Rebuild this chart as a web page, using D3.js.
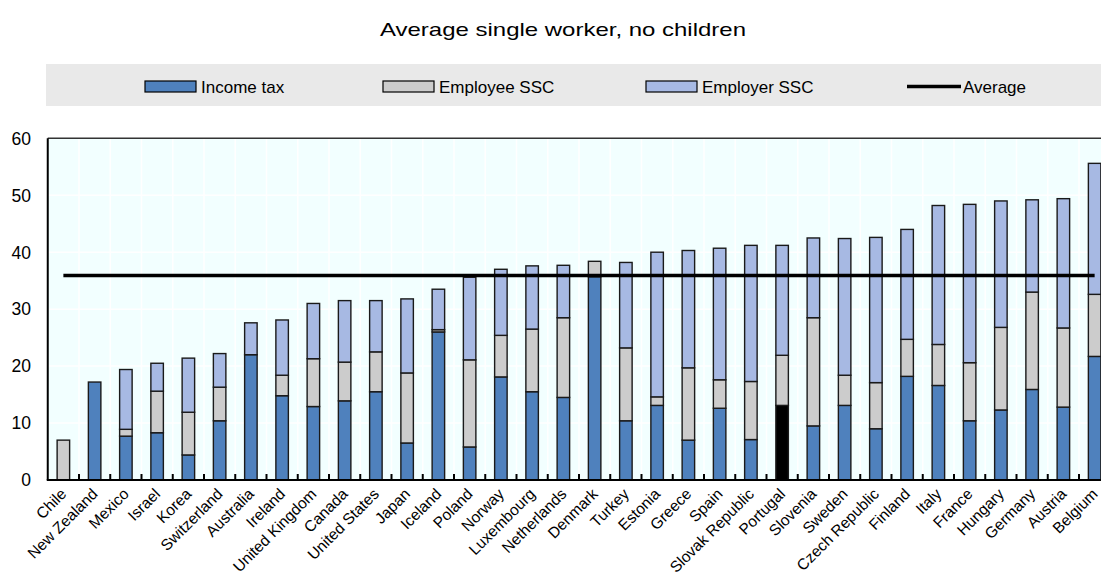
<!DOCTYPE html>
<html>
<head>
<meta charset="utf-8">
<script src="https://cdn.jsdelivr.net/npm/d3@7"></script>
<style>
  html, body { margin: 0; padding: 0; background: #ffffff; }
  svg { display: block; font-family: "Liberation Sans", Arial, sans-serif; }
</style>
</head>
<body>
<svg id="chart" width="1101" height="576"></svg>
<script>
const countries = ["Chile","New Zealand","Mexico","Israel","Korea","Switzerland","Australia","Ireland","United Kingdom","Canada","United States","Japan","Iceland","Poland","Norway","Luxembourg","Netherlands","Denmark","Turkey","Estonia","Greece","Spain","Slovak Republic","Portugal","Slovenia","Sweden","Czech Republic","Finland","Italy","France","Hungary","Germany","Austria","Belgium"];
const incomeTax   = [0.0,17.2,7.7,8.3,4.4,10.4,22.0,14.8,12.9,13.9,15.5,6.5,26.0,5.8,18.1,15.5,14.5,35.7,10.4,13.1,7.0,12.6,7.1,13.1,9.5,13.1,9.0,18.2,16.6,10.4,12.3,15.9,12.8,21.7];
const employeeSSC = [7.0,0.0,1.2,7.3,7.5,5.9,0.0,3.6,8.4,6.8,7.0,12.3,0.4,15.3,7.3,11.0,14.0,2.7,12.8,1.5,12.7,5.0,10.2,8.8,19.0,5.3,8.1,6.5,7.2,10.2,14.5,17.1,13.9,10.9];
const employerSSC = [0.0,0.0,10.5,4.9,9.5,5.9,5.6,9.7,9.7,10.8,9.0,13.0,7.1,14.5,11.6,11.1,9.2,0.0,15.0,25.4,20.6,23.1,23.9,19.3,14.0,24.0,25.5,19.3,24.4,27.8,22.2,16.2,22.7,23.0];
const averageValue = 35.9;
const yTicks = [0,10,20,30,40,50,60];
const highlight = "Portugal";
const seriesNames = ["Income tax","Employee SSC","Employer SSC"];
const averageName = "Average";
const title = "Average single worker, no children";

const colors = {"Income tax":"#4f81bd","Employee SSC":"#cccccc","Employer SSC":"#a7b9e3"};

const svg = d3.select("#chart");
const W = 1101, H = 576;
const plot = {left: 47.75, right: 1110.25, top: 138.3, bottom: 480};

// Title
svg.append("text").attr("x", 563).attr("y", 36).attr("text-anchor","middle")
  .attr("font-size", 19).attr("fill","#000")
  .attr("textLength", 366).attr("lengthAdjust","spacingAndGlyphs").text(title);

// Legend background
svg.append("rect").attr("x",46).attr("y",64).attr("width",W-46).attr("height",42).attr("fill","#e9e9e9");
const legendItems = [
  {name: seriesNames[0], x: 145, type: "rect"},
  {name: seriesNames[1], x: 383, type: "rect"},
  {name: seriesNames[2], x: 646, type: "rect"},
  {name: averageName, x: 907, type: "line"}
];
legendItems.forEach(it => {
  const g = svg.append("g");
  if (it.type === "rect") {
    g.append("rect").attr("x", it.x).attr("y", 81).attr("width", 51).attr("height", 11)
      .attr("fill", colors[it.name]).attr("stroke","#000").attr("stroke-width",1.2);
  } else {
    g.append("line").attr("x1", it.x).attr("x2", it.x+54).attr("y1", 86.5).attr("y2", 86.5)
      .attr("stroke","#000").attr("stroke-width",3.5);
  }
  g.append("text").attr("x", it.x + 56).attr("y", 93).attr("font-size", 17)
    .attr("font-family", "'Liberation Sans Narrow', 'Liberation Sans', Arial, sans-serif")
    .attr("fill","#000").text(it.name);
});

// Scales
const x = d3.scaleBand().domain(countries).range([plot.left, plot.right]).paddingInner(0).paddingOuter(0);
const y = d3.scaleLinear().domain([0,60]).range([plot.bottom, plot.top]);
const barW = x.bandwidth()*0.4;

// Plot background
svg.append("rect").attr("x", plot.left).attr("y", plot.top).attr("width", plot.right-plot.left)
  .attr("height", plot.bottom-plot.top).attr("fill","#f2ffff");

// Gridlines
svg.append("g").selectAll("line.h").data(yTicks.slice(1,-1)).join("line")
  .attr("x1", plot.left).attr("x2", plot.right).attr("y1", d=>y(d)).attr("y2", d=>y(d))
  .attr("stroke","#ffffff").attr("stroke-width",1.5);
svg.append("g").selectAll("line.v").data(countries.slice(1)).join("line")
  .attr("x1", d=>x(d)).attr("x2", d=>x(d)).attr("y1", plot.top).attr("y2", plot.bottom)
  .attr("stroke","#ffffff").attr("stroke-width",1.5);

// Stacked data
const rows = countries.map((c,i)=>({country:c, "Income tax":incomeTax[i], "Employee SSC":employeeSSC[i], "Employer SSC":employerSSC[i]}));
const stack = d3.stack().keys(seriesNames)(rows);

stack.forEach(layer => {
  svg.append("g").selectAll("rect").data(layer.filter(d => d[1]-d[0] > 0.001)).join("rect")
    .attr("x", d => x(d.data.country) + (x.bandwidth()-barW)/2)
    .attr("width", barW)
    .attr("y", d => y(d[1]))
    .attr("height", d => y(d[0]) - y(d[1]))
    .attr("fill", d => (layer.key === "Income tax" && d.data.country === highlight) ? "#000000" : colors[layer.key])
    .attr("stroke", "#1a1a1a").attr("stroke-width", 1.4);
});

// Axes frame
svg.append("line").attr("x1", plot.left).attr("x2", plot.right).attr("y1", plot.top).attr("y2", plot.top)
  .attr("stroke","#333").attr("stroke-width",1.5);
svg.append("line").attr("x1", plot.left).attr("x2", plot.left).attr("y1", plot.top).attr("y2", plot.bottom)
  .attr("stroke","#000").attr("stroke-width",2);
svg.append("line").attr("x1", plot.left-1).attr("x2", plot.right).attr("y1", plot.bottom).attr("y2", plot.bottom)
  .attr("stroke","#000").attr("stroke-width",2);

// X ticks (inside)
svg.append("g").selectAll("line").data(countries.slice(1)).join("line")
  .attr("x1", d=>x(d)).attr("x2", d=>x(d)).attr("y1", plot.bottom).attr("y2", plot.bottom-6)
  .attr("stroke","#000").attr("stroke-width",2);

// Average line
const avgLine = d3.line().x(d => x(d)+x.bandwidth()/2).y(() => y(averageValue));
svg.append("path").datum([countries[0], countries[countries.length-1]]).attr("d", avgLine)
  .attr("fill","none").attr("stroke","#000").attr("stroke-width",3.5);

// Y labels
svg.append("g").selectAll("text").data(yTicks).join("text")
  .attr("x", 31).attr("y", d => y(d)).attr("dy","0.36em").attr("text-anchor","end")
  .attr("font-size", 17.5).attr("fill","#000").text(d=>d);

// X labels
svg.append("g").selectAll("text").data(countries).join("text")
  .attr("transform", d => `translate(${x(d)+x.bandwidth()/2+4},${plot.bottom+15}) rotate(-45)`)
  .attr("text-anchor","end").attr("font-size", 15.5).attr("fill","#000").text(d=>d);
</script>
</body>
</html>
